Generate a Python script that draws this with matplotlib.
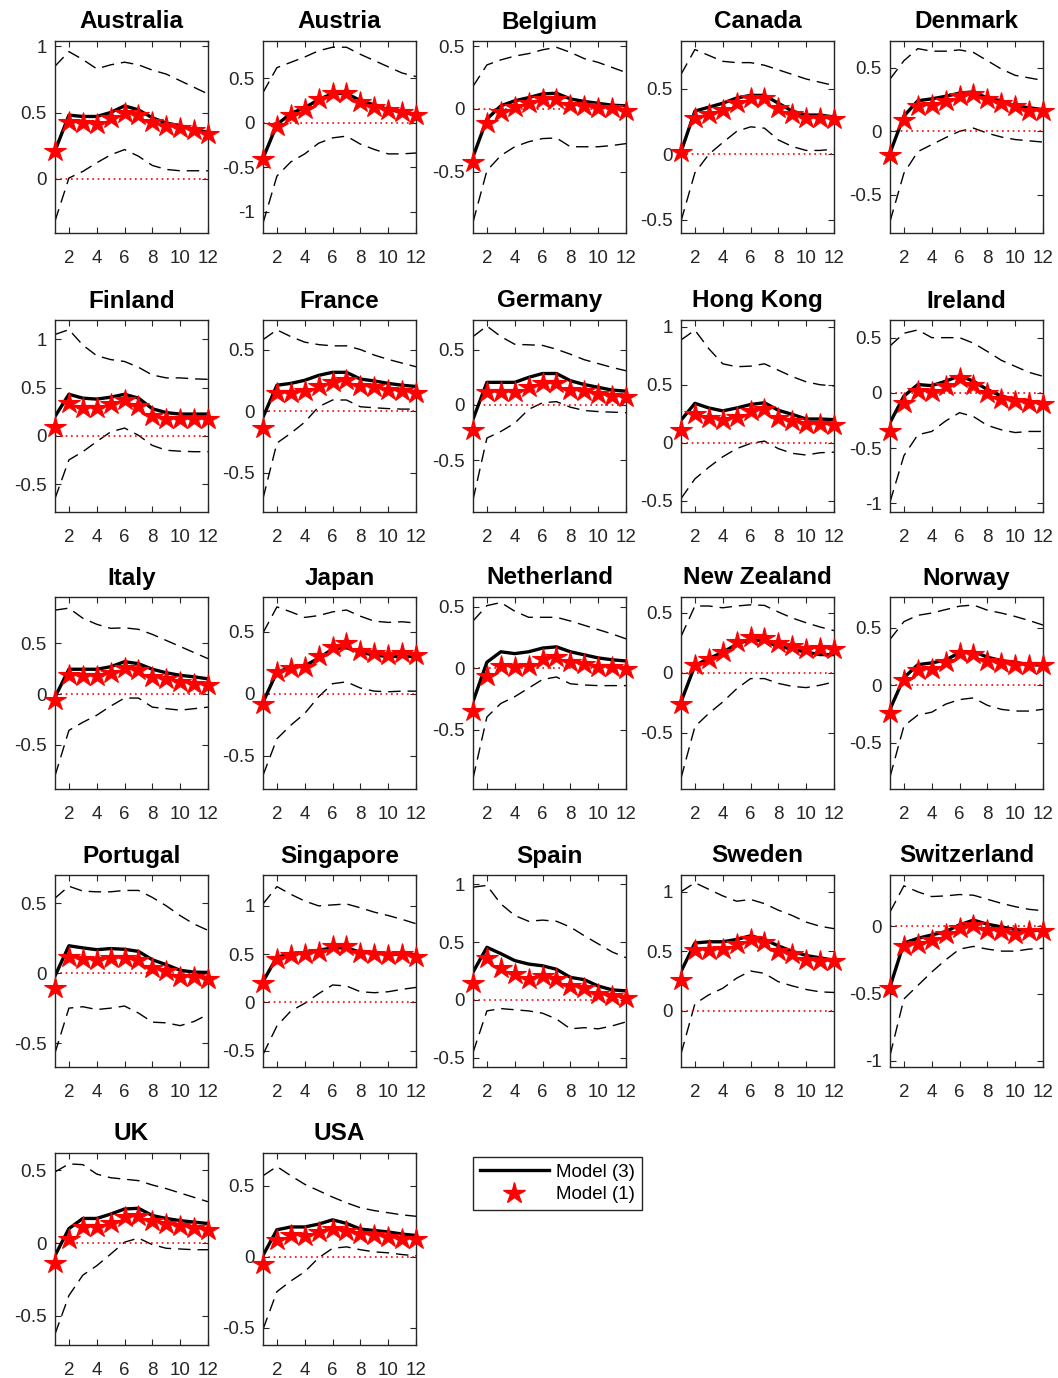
import matplotlib
matplotlib.use("Agg")
import matplotlib.pyplot as plt
from matplotlib.lines import Line2D
from matplotlib.ticker import MultipleLocator, FuncFormatter
import numpy as np

plt.rcParams['font.family'] = ['Liberation Sans', 'DejaVu Sans']

horizon = np.arange(1, 13)

countries = ['Australia', 'Austria', 'Belgium', 'Canada', 'Denmark',
             'Finland', 'France', 'Germany', 'Hong Kong', 'Ireland',
             'Italy', 'Japan', 'Netherland', 'New Zealand', 'Norway',
             'Portugal', 'Singapore', 'Spain', 'Sweden', 'Switzerland',
             'UK', 'USA']

# impulse responses, model (3)
model3 = {
    'Australia':   [0.21, 0.48, 0.47, 0.47, 0.50, 0.55, 0.52, 0.46, 0.42, 0.40, 0.37, 0.35],
    'Austria':     [-0.40, -0.02, 0.105, 0.17, 0.26, 0.33, 0.33, 0.25, 0.20, 0.15, 0.12, 0.09],
    'Belgium':     [-0.38, -0.08, 0.025, 0.065, 0.09, 0.12, 0.125, 0.08, 0.06, 0.045, 0.03, 0.025],
    'Canada':      [0.02, 0.33, 0.36, 0.39, 0.43, 0.45, 0.45, 0.39, 0.33, 0.30, 0.30, 0.285],
    'Denmark':     [-0.17, 0.12, 0.24, 0.255, 0.275, 0.30, 0.31, 0.26, 0.24, 0.20, 0.185, 0.17],
    'Finland':     [0.20, 0.43, 0.39, 0.38, 0.40, 0.43, 0.39, 0.28, 0.24, 0.225, 0.225, 0.225],
    'France':      [-0.05, 0.21, 0.225, 0.25, 0.29, 0.315, 0.315, 0.26, 0.245, 0.225, 0.21, 0.20],
    'Germany':     [-0.13, 0.205, 0.205, 0.205, 0.25, 0.285, 0.285, 0.22, 0.185, 0.16, 0.135, 0.125],
    'Hong Kong':   [0.195, 0.34, 0.30, 0.275, 0.30, 0.33, 0.345, 0.28, 0.245, 0.205, 0.205, 0.20],
    'Ireland':     [-0.27, -0.03, 0.075, 0.065, 0.105, 0.155, 0.105, 0.03, -0.03, -0.06, -0.075, -0.095],
    'Italy':       [-0.03, 0.245, 0.245, 0.245, 0.27, 0.32, 0.30, 0.245, 0.21, 0.185, 0.17, 0.15],
    'Japan':       [-0.07, 0.175, 0.21, 0.225, 0.285, 0.36, 0.37, 0.335, 0.31, 0.30, 0.30, 0.30],
    'Netherland':  [-0.27, 0.05, 0.135, 0.12, 0.135, 0.165, 0.175, 0.135, 0.11, 0.085, 0.07, 0.06],
    'New Zealand': [-0.245, 0.06, 0.117, 0.17, 0.235, 0.28, 0.26, 0.22, 0.195, 0.17, 0.15, 0.15],
    'Norway':      [-0.21, 0.065, 0.18, 0.195, 0.22, 0.285, 0.295, 0.245, 0.215, 0.20, 0.18, 0.175],
    'Portugal':    [-0.02, 0.195, 0.18, 0.167, 0.175, 0.17, 0.155, 0.095, 0.06, 0.02, 0.007, 0.005],
    'Singapore':   [0.215, 0.47, 0.50, 0.515, 0.54, 0.565, 0.565, 0.52, 0.51, 0.50, 0.50, 0.49],
    'Spain':       [0.24, 0.455, 0.40, 0.34, 0.31, 0.295, 0.265, 0.195, 0.175, 0.12, 0.087, 0.078],
    'Sweden':      [0.33, 0.57, 0.58, 0.58, 0.60, 0.63, 0.60, 0.545, 0.50, 0.465, 0.445, 0.425],
    'Switzerland': [-0.45, -0.125, -0.09, -0.065, -0.04, 0.01, 0.045, 0.015, -0.005, -0.025, -0.03, -0.03],
    'UK':          [-0.085, 0.10, 0.17, 0.17, 0.20, 0.235, 0.24, 0.19, 0.17, 0.155, 0.145, 0.135],
    'USA':         [0.01, 0.19, 0.21, 0.21, 0.23, 0.26, 0.235, 0.195, 0.185, 0.175, 0.16, 0.15],
}

# impulse responses, model (1)
model1 = {
    'Australia':   [0.21, 0.43, 0.42, 0.41, 0.46, 0.50, 0.48, 0.43, 0.40, 0.38, 0.37, 0.34],
    'Austria':     [-0.41, -0.04, 0.09, 0.15, 0.27, 0.33, 0.34, 0.23, 0.18, 0.14, 0.12, 0.09],
    'Belgium':     [-0.42, -0.115, -0.02, 0.015, 0.045, 0.08, 0.08, 0.03, 0.025, 0.005, 0.005, -0.015],
    'Canada':      [0.015, 0.28, 0.31, 0.34, 0.39, 0.43, 0.43, 0.355, 0.31, 0.28, 0.28, 0.27],
    'Denmark':     [-0.185, 0.087, 0.20, 0.21, 0.24, 0.275, 0.295, 0.25, 0.22, 0.20, 0.16, 0.16],
    'Finland':     [0.09, 0.335, 0.29, 0.29, 0.33, 0.37, 0.31, 0.21, 0.17, 0.17, 0.17, 0.17],
    'France':      [-0.14, 0.145, 0.15, 0.16, 0.205, 0.24, 0.25, 0.20, 0.195, 0.17, 0.165, 0.145],
    'Germany':     [-0.225, 0.115, 0.115, 0.115, 0.16, 0.20, 0.20, 0.135, 0.125, 0.10, 0.077, 0.068],
    'Hong Kong':   [0.11, 0.245, 0.21, 0.20, 0.225, 0.27, 0.29, 0.21, 0.185, 0.16, 0.16, 0.15],
    'Ireland':     [-0.345, -0.09, 0.02, 0.006, 0.06, 0.135, 0.075, -0.006, -0.055, -0.07, -0.09, -0.105],
    'Italy':       [-0.06, 0.185, 0.18, 0.18, 0.21, 0.26, 0.235, 0.17, 0.15, 0.12, 0.10, 0.093],
    'Japan':       [-0.08, 0.175, 0.21, 0.215, 0.30, 0.38, 0.405, 0.345, 0.325, 0.315, 0.33, 0.31],
    'Netherland':  [-0.35, -0.06, 0.02, 0.01, 0.02, 0.08, 0.095, 0.055, 0.035, 0.01, 0.01, -0.005],
    'New Zealand': [-0.26, 0.065, 0.117, 0.17, 0.255, 0.30, 0.29, 0.245, 0.22, 0.20, 0.205, 0.195],
    'Norway':      [-0.24, 0.045, 0.135, 0.14, 0.20, 0.28, 0.27, 0.21, 0.19, 0.18, 0.175, 0.18],
    'Portugal':    [-0.107, 0.115, 0.10, 0.095, 0.105, 0.105, 0.095, 0.035, 0.012, -0.03, -0.03, -0.045],
    'Singapore':   [0.20, 0.445, 0.49, 0.505, 0.52, 0.58, 0.58, 0.515, 0.505, 0.49, 0.50, 0.47],
    'Spain':       [0.145, 0.365, 0.28, 0.225, 0.185, 0.21, 0.18, 0.12, 0.105, 0.05, 0.035, 0.02],
    'Sweden':      [0.26, 0.515, 0.515, 0.52, 0.56, 0.605, 0.58, 0.50, 0.475, 0.43, 0.415, 0.415],
    'Switzerland': [-0.46, -0.15, -0.13, -0.10, -0.06, -0.01, 0.012, -0.025, -0.037, -0.055, -0.037, -0.037],
    'UK':          [-0.135, 0.03, 0.11, 0.11, 0.14, 0.18, 0.185, 0.155, 0.13, 0.12, 0.105, 0.09],
    'USA':         [-0.05, 0.115, 0.15, 0.145, 0.175, 0.195, 0.185, 0.16, 0.15, 0.14, 0.127, 0.123],
}

# upper confidence band of model (3)
upper = {
    'Australia':   [0.85, 0.96, 0.90, 0.83, 0.86, 0.88, 0.86, 0.82, 0.79, 0.74, 0.69, 0.64],
    'Austria':     [0.34, 0.62, 0.68, 0.74, 0.81, 0.85, 0.85, 0.77, 0.70, 0.63, 0.56, 0.52],
    'Belgium':     [0.18, 0.35, 0.39, 0.42, 0.44, 0.47, 0.49, 0.45, 0.40, 0.37, 0.33, 0.29],
    'Canada':      [0.61, 0.80, 0.755, 0.71, 0.70, 0.70, 0.68, 0.645, 0.61, 0.575, 0.55, 0.525],
    'Denmark':     [0.41, 0.555, 0.65, 0.63, 0.63, 0.64, 0.62, 0.555, 0.49, 0.44, 0.42, 0.40],
    'Finland':     [1.05, 1.10, 0.94, 0.83, 0.79, 0.77, 0.71, 0.63, 0.60, 0.60, 0.59, 0.585],
    'France':      [0.58, 0.66, 0.605, 0.56, 0.54, 0.53, 0.53, 0.50, 0.455, 0.42, 0.39, 0.36],
    'Germany':     [0.62, 0.715, 0.62, 0.55, 0.545, 0.54, 0.505, 0.46, 0.41, 0.375, 0.34, 0.31],
    'Hong Kong':   [0.885, 0.97, 0.81, 0.68, 0.655, 0.66, 0.68, 0.625, 0.57, 0.525, 0.50, 0.49],
    'Ireland':     [0.425, 0.54, 0.57, 0.50, 0.50, 0.50, 0.45, 0.375, 0.295, 0.24, 0.185, 0.15],
    'Italy':       [0.83, 0.85, 0.75, 0.69, 0.65, 0.655, 0.64, 0.59, 0.53, 0.47, 0.41, 0.35],
    'Japan':       [0.49, 0.70, 0.66, 0.615, 0.63, 0.66, 0.675, 0.625, 0.585, 0.575, 0.58, 0.57],
    'Netherland':  [0.385, 0.51, 0.535, 0.465, 0.415, 0.415, 0.415, 0.385, 0.35, 0.315, 0.28, 0.24],
    'New Zealand': [0.30, 0.555, 0.555, 0.54, 0.555, 0.565, 0.56, 0.505, 0.455, 0.415, 0.38, 0.35],
    'Norway':      [0.40, 0.555, 0.61, 0.63, 0.66, 0.69, 0.70, 0.655, 0.63, 0.60, 0.565, 0.525],
    'Portugal':    [0.535, 0.62, 0.585, 0.58, 0.58, 0.59, 0.59, 0.54, 0.48, 0.41, 0.35, 0.305],
    'Singapore':   [1.02, 1.20, 1.12, 1.05, 1.00, 1.01, 1.02, 0.98, 0.935, 0.90, 0.86, 0.815],
    'Spain':       [0.975, 0.99, 0.83, 0.73, 0.68, 0.69, 0.68, 0.63, 0.555, 0.485, 0.415, 0.365],
    'Sweden':      [1.00, 1.075, 1.02, 0.965, 0.92, 0.935, 0.90, 0.845, 0.80, 0.745, 0.71, 0.69],
    'Switzerland': [0.105, 0.30, 0.255, 0.22, 0.225, 0.235, 0.23, 0.20, 0.17, 0.145, 0.125, 0.115],
    'UK':          [0.49, 0.545, 0.54, 0.475, 0.45, 0.44, 0.43, 0.40, 0.375, 0.345, 0.315, 0.285],
    'USA':         [0.57, 0.635, 0.57, 0.51, 0.465, 0.42, 0.38, 0.345, 0.325, 0.31, 0.295, 0.285],
}

# lower confidence band of model (3)
lower = {
    'Australia':   [-0.32, 0.005, 0.055, 0.12, 0.18, 0.22, 0.17, 0.10, 0.07, 0.06, 0.06, 0.06],
    'Austria':     [-1.13, -0.60, -0.44, -0.35, -0.23, -0.17, -0.15, -0.24, -0.30, -0.35, -0.35, -0.34],
    'Belgium':     [-0.90, -0.49, -0.37, -0.30, -0.26, -0.235, -0.23, -0.30, -0.30, -0.30, -0.29, -0.275],
    'Canada':      [-0.51, -0.14, 0.0, 0.09, 0.175, 0.21, 0.20, 0.11, 0.06, 0.03, 0.03, 0.04],
    'Denmark':     [-0.71, -0.33, -0.16, -0.105, -0.05, 0.0, 0.025, -0.015, -0.045, -0.065, -0.075, -0.085],
    'Finland':     [-0.65, -0.25, -0.165, -0.06, 0.04, 0.08, 0.005, -0.10, -0.15, -0.16, -0.165, -0.165],
    'France':      [-0.71, -0.26, -0.18, -0.09, 0.035, 0.09, 0.09, 0.035, 0.027, 0.02, 0.016, 0.016],
    'Germany':     [-0.86, -0.30, -0.24, -0.165, -0.04, 0.02, 0.03, -0.02, -0.05, -0.06, -0.065, -0.07],
    'Hong Kong':   [-0.48, -0.31, -0.21, -0.12, -0.05, -0.005, 0.015, -0.05, -0.09, -0.105, -0.085, -0.08],
    'Ireland':     [-0.99, -0.57, -0.38, -0.35, -0.255, -0.18, -0.215, -0.295, -0.335, -0.36, -0.35, -0.35],
    'Italy':       [-0.81, -0.36, -0.28, -0.21, -0.12, -0.04, -0.04, -0.13, -0.145, -0.16, -0.145, -0.13],
    'Japan':       [-0.66, -0.365, -0.255, -0.16, -0.025, 0.08, 0.095, 0.045, 0.02, 0.015, 0.02, 0.02],
    'Netherland':  [-0.895, -0.395, -0.285, -0.23, -0.16, -0.09, -0.07, -0.125, -0.135, -0.14, -0.14, -0.14],
    'New Zealand': [-0.88, -0.45, -0.34, -0.245, -0.135, -0.05, -0.05, -0.09, -0.115, -0.125, -0.105, -0.078],
    'Norway':      [-0.80, -0.355, -0.26, -0.235, -0.165, -0.125, -0.11, -0.175, -0.21, -0.225, -0.225, -0.21],
    'Portugal':    [-0.57, -0.25, -0.24, -0.26, -0.25, -0.235, -0.285, -0.35, -0.355, -0.375, -0.345, -0.295],
    'Singapore':   [-0.54, -0.245, -0.09, -0.01, 0.09, 0.18, 0.17, 0.11, 0.10, 0.11, 0.135, 0.155],
    'Spain':       [-0.455, -0.095, -0.075, -0.085, -0.095, -0.115, -0.165, -0.25, -0.24, -0.25, -0.225, -0.19],
    'Sweden':      [-0.36, 0.06, 0.135, 0.19, 0.275, 0.335, 0.315, 0.245, 0.21, 0.18, 0.16, 0.155],
    'Switzerland': [-0.96, -0.54, -0.44, -0.34, -0.25, -0.17, -0.15, -0.17, -0.185, -0.185, -0.17, -0.165],
    'UK':          [-0.625, -0.36, -0.22, -0.155, -0.075, 0.007, 0.035, -0.01, -0.035, -0.04, -0.045, -0.045],
    'USA':         [-0.51, -0.245, -0.17, -0.105, -0.007, 0.06, 0.07, 0.05, 0.035, 0.028, 0.016, 0.007],
}

ylims = {
    'Australia': (-0.41, 1.04), 'Austria': (-1.24, 0.92), 'Belgium': (-0.985, 0.54),
    'Canada': (-0.60, 0.865), 'Denmark': (-0.80, 0.71), 'Finland': (-0.79, 1.20),
    'France': (-0.82, 0.74), 'Germany': (-0.97, 0.77), 'Hong Kong': (-0.595, 1.057),
    'Ireland': (-1.08, 0.66), 'Italy': (-0.94, 0.96), 'Japan': (-0.77, 0.78),
    'Netherland': (-0.98, 0.58), 'New Zealand': (-0.97, 0.63), 'Norway': (-0.905, 0.77),
    'Portugal': (-0.67, 0.70), 'Singapore': (-0.67, 1.32), 'Spain': (-0.58, 1.08),
    'Sweden': (-0.47, 1.14), 'Switzerland': (-1.045, 0.38), 'UK': (-0.70, 0.62),
    'USA': (-0.62, 0.73),
}

W, H = 1058, 1378
fig = plt.figure(figsize=(W / 100, H / 100), dpi=100)

col_left = [55, 263, 473, 681, 890]
row_top = [41, 320, 597, 875, 1153]
ax_w, ax_h = 153, 192
axcol = '#262626'

fmt = FuncFormatter(lambda v, p: ('%g' % round(v, 3)).replace('\u2212', '-'))

for i, c in enumerate(countries):
    r, k = divmod(i, 5)
    ax = fig.add_axes([col_left[k] / W, 1 - (row_top[r] + ax_h) / H, ax_w / W, ax_h / H])
    ax.plot(horizon, upper[c], color='k', lw=1.0, dashes=(9, 5))
    ax.plot(horizon, lower[c], color='k', lw=1.0, dashes=(9, 5))
    ax.plot(horizon, np.zeros(len(horizon)), color='red', lw=1.2, dashes=(1, 2.2))
    ax.plot(horizon, model3[c], color='k', lw=2.4, solid_joinstyle='round')
    ax.plot(horizon, model1[c], ls='none', marker='*', ms=16, mfc='red', mec='red',
            mew=0.8, clip_on=False, zorder=5)
    ax.set_xlim(1, 12)
    ax.set_ylim(*ylims[c])
    ax.set_xticks([2, 4, 6, 8, 10, 12])
    ax.yaxis.set_major_locator(MultipleLocator(0.5))
    ax.yaxis.set_major_formatter(fmt)
    ax.tick_params(direction='in', length=4, width=0.8, top=True, right=True,
                   labelsize=13.5, colors=axcol, labelcolor=axcol)
    ax.tick_params(axis='x', pad=12)
    ax.tick_params(axis='y', pad=6)
    for s in ax.spines.values():
        s.set_color(axcol)
        s.set_linewidth(1.0)
    ax.set_title(c, fontsize=17.5, fontweight='bold', pad=9)

handles = [Line2D([], [], color='k', lw=2.4),
           Line2D([], [], ls='none', marker='*', ms=16, mfc='red', mec='red')]
leg = fig.legend(handles, ['Model (3)', 'Model (1)'], loc='upper left',
                 bbox_to_anchor=(473 / W, 1 - 1157 / H), borderaxespad=0,
                 fontsize=13.5, handlelength=3.7, handletextpad=0.4, labelspacing=0.3,
                 borderpad=0.35, fancybox=False, framealpha=1, edgecolor=axcol)
leg.get_frame().set_linewidth(1.0)

fig.savefig('out.png', dpi=100)
